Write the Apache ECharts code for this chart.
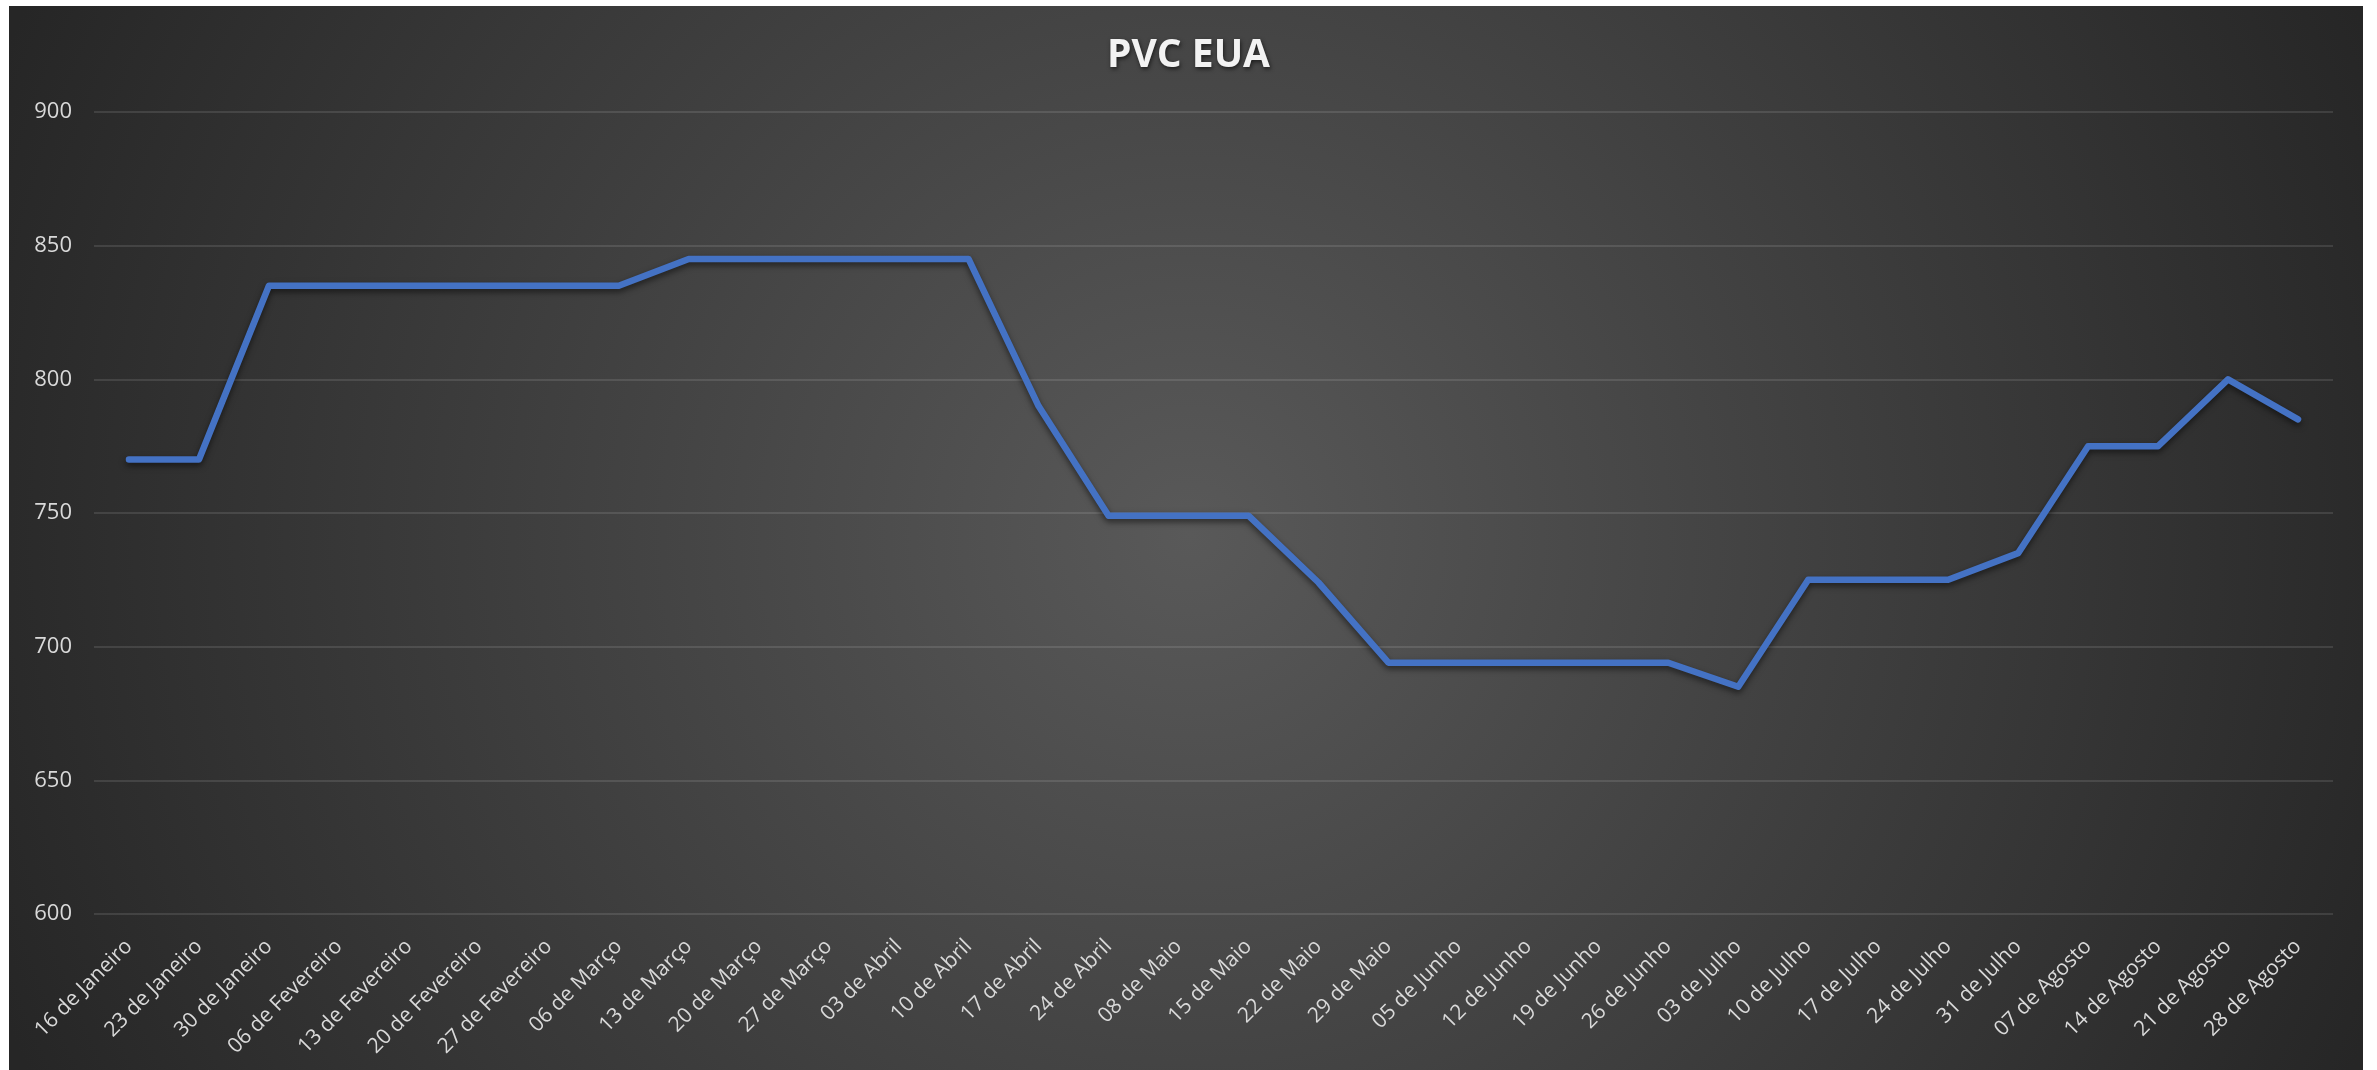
<!DOCTYPE html>
<html>
<head>
<meta charset="utf-8">
<script src="https://cdn.jsdelivr.net/npm/echarts@6/dist/echarts.min.js"></script>
<style>
  html, body { margin: 0; padding: 0; background: #ffffff; }
  #bg {
    position: absolute; left: 9px; top: 6px; width: 2354px; height: 1064px;
    background: radial-gradient(circle 1280px at 1181px 529px, #595959 0%, #262626 100%);
  }
  #chart { position: absolute; left: 0; top: 0; width: 2377px; height: 1070px; }
</style>
</head>
<body>
<div id="bg"></div>
<div id="chart"></div>
<script>
const categories = [
  '16 de Janeiro', '23 de Janeiro', '30 de Janeiro', '06 de Fevereiro', '13 de Fevereiro',
  '20 de Fevereiro', '27 de Fevereiro', '06 de Março', '13 de Março', '20 de Março',
  '27 de Março', '03 de Abril', '10 de Abril', '17 de Abril', '24 de Abril',
  '08 de Maio', '15 de Maio', '22 de Maio', '29 de Maio', '05 de Junho',
  '12 de Junho', '19 de Junho', '26 de Junho', '03 de Julho', '10 de Julho',
  '17 de Julho', '24 de Julho', '31 de Julho', '07 de Agosto', '14 de Agosto',
  '21 de Agosto', '28 de Agosto'
];
const pvcValues = [
  770, 770, 835, 835, 835,
  835, 835, 835, 845, 845,
  845, 845, 845, 790, 749,
  749, 749, 724, 694, 694,
  694, 694, 694, 685, 725,
  725, 725, 735, 775, 775,
  800, 785
];
const yTicks = { min: 600, max: 900, interval: 50 };
const titleText = 'PVC EUA';

const chart = echarts.init(document.getElementById('chart'), null, { renderer: 'canvas' });
chart.setOption({
  backgroundColor: 'transparent',
  animation: false,
  title: {
    text: titleText,
    left: 'center',
    top: 36,
    padding: 0,
    textStyle: {
      color: '#f2f2f2',
      fontFamily: 'Open Sans',
      fontWeight: 'bold',
      fontSize: 39,
      textShadowColor: 'rgba(0,0,0,0.6)',
      textShadowBlur: 4,
      textShadowOffsetX: 1,
      textShadowOffsetY: 2
    }
  },
  grid: { left: 94, right: 44, top: 112, bottom: 156, containLabel: false },
  xAxis: {
    type: 'category',
    data: categories,
    boundaryGap: true,
    axisLine: { show: false },
    axisTick: { show: false },
    axisLabel: {
      interval: 0,
      rotate: 45,
      margin: 29,
      color: '#d9d9d9',
      fontFamily: 'Open Sans',
      fontSize: 21
    }
  },
  yAxis: {
    type: 'value',
    min: yTicks.min,
    max: yTicks.max,
    interval: yTicks.interval,
    axisLine: { show: false },
    axisTick: { show: false },
    axisLabel: {
      margin: 22,
      color: '#d9d9d9',
      fontFamily: 'Open Sans',
      fontSize: 22
    },
    splitLine: { lineStyle: { color: 'rgba(255,255,255,0.11)', width: 2 } }
  },
  series: [{
    type: 'line',
    data: pvcValues,
    symbol: 'none',
    lineStyle: {
      color: '#4472C4',
      width: 6.5,
      cap: 'round',
      join: 'round',
      shadowColor: 'rgba(0,0,0,0.55)',
      shadowBlur: 6,
      shadowOffsetY: 3
    },
    z: 3
  }]
});
</script>
</body>
</html>
